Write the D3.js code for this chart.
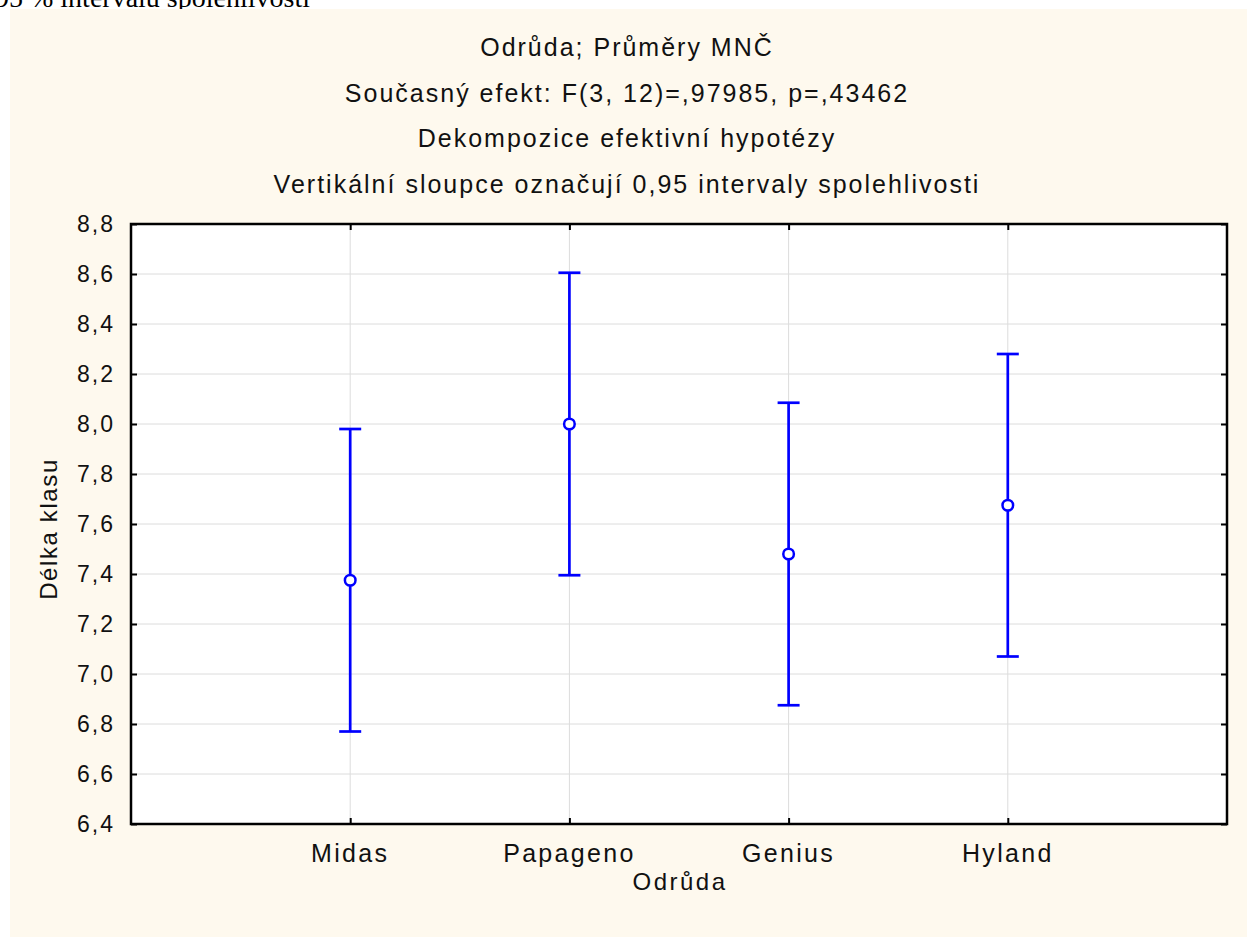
<!DOCTYPE html>
<html>
<head>
<meta charset="utf-8">
<script src="https://cdn.jsdelivr.net/npm/d3@7"></script>
<style>
  body { margin: 0; background: #fff; }
  svg { display: block; }
</style>
</head>
<body>
<svg id="chart" width="1247" height="937"></svg>
<script>
var categories = ['Midas', 'Papageno', 'Genius', 'Hyland'];
var means = [7.375, 8.0, 7.48, 7.675];
var lowerCI = [6.77, 7.395, 6.875, 7.07];
var upperCI = [7.98, 8.605, 8.085, 8.28];
var yTicks = [6.4, 6.6, 6.8, 7.0, 7.2, 7.4, 7.6, 7.8, 8.0, 8.2, 8.4, 8.6, 8.8];
var titleLines = [
  'Odrůda; Průměry MNČ',
  'Současný efekt: F(3, 12)=,97985, p=,43462',
  'Dekompozice efektivní hypotézy',
  'Vertikální sloupce označují 0,95 intervaly spolehlivosti'
];

var svg = d3.select('#chart');
var W = 1247, H = 937;
var plot = { left: 131, top: 224, right: 1227, bottom: 824 };
var font = '"Liberation Sans", Arial, sans-serif';

// leftover caption from the surrounding document, cut off at the top
svg.append('text')
  .attr('x', -5)
  .attr('y', 7)
  .attr('font-family', '"Liberation Serif", "Times New Roman", serif')
  .attr('font-size', '28px')
  .attr('fill', 'black')
  .text('95 % intervalu spolehlivosti');

svg.append('rect')
  .attr('x', 10).attr('y', 9)
  .attr('width', W - 10).attr('height', H - 9)
  .attr('fill', '#fef9ee');

var x = d3.scalePoint()
  .domain(categories)
  .range([plot.left, plot.right])
  .padding(1);

var y = d3.scaleLinear()
  .domain([6.4, 8.8])
  .range([plot.bottom, plot.top]);

var fmt = function(v) { return d3.format('.1f')(v).replace('.', ','); };

svg.append('rect')
  .attr('x', plot.left).attr('y', plot.top)
  .attr('width', plot.right - plot.left)
  .attr('height', plot.bottom - plot.top)
  .attr('fill', 'white');

// grid
svg.append('g')
  .selectAll('line')
  .data(yTicks.slice(1, -1))
  .join('line')
  .attr('x1', plot.left).attr('x2', plot.right)
  .attr('y1', function(d) { return y(d); })
  .attr('y2', function(d) { return y(d); })
  .attr('stroke', '#dcdcdc')
  .attr('stroke-width', 1);

svg.append('g')
  .selectAll('line')
  .data(categories)
  .join('line')
  .attr('x1', function(d) { return x(d); })
  .attr('x2', function(d) { return x(d); })
  .attr('y1', plot.top).attr('y2', plot.bottom)
  .attr('stroke', '#dcdcdc')
  .attr('stroke-width', 1);

// axes: inward ticks on all four sides
var axisLeft = svg.append('g')
  .attr('transform', 'translate(' + plot.left + ',0)')
  .call(d3.axisRight(y).tickValues(yTicks).tickSize(6).tickFormat(''));
var axisRight = svg.append('g')
  .attr('transform', 'translate(' + plot.right + ',0)')
  .call(d3.axisLeft(y).tickValues(yTicks).tickSize(6).tickFormat(''));
var axisTop = svg.append('g')
  .attr('transform', 'translate(0,' + plot.top + ')')
  .call(d3.axisBottom(x).tickSize(6).tickFormat(''));
var axisBottom = svg.append('g')
  .attr('transform', 'translate(0,' + plot.bottom + ')')
  .call(d3.axisTop(x).tickSize(6).tickFormat(''));

[axisLeft, axisRight, axisTop, axisBottom].forEach(function(a) {
  a.select('.domain').remove();
  a.selectAll('.tick line').attr('stroke', 'black').attr('stroke-width', 2);
});

svg.append('rect')
  .attr('x', plot.left).attr('y', plot.top)
  .attr('width', plot.right - plot.left)
  .attr('height', plot.bottom - plot.top)
  .attr('fill', 'none')
  .attr('stroke', 'black')
  .attr('stroke-width', 2.5);

// tick labels
svg.append('g')
  .selectAll('text')
  .data(yTicks)
  .join('text')
  .attr('x', 115)
  .attr('y', function(d) { return y(d); })
  .attr('dy', '0.36em')
  .attr('text-anchor', 'end')
  .attr('font-family', font)
  .attr('font-size', '23px')
  .attr('letter-spacing', '2px')
  .attr('fill', '#111')
  .text(fmt);

svg.append('g')
  .selectAll('text')
  .data(categories)
  .join('text')
  .attr('x', function(d) { return x(d); })
  .attr('y', 862)
  .attr('text-anchor', 'middle')
  .attr('font-family', font)
  .attr('font-size', '25px')
  .attr('letter-spacing', '2.3px')
  .attr('fill', '#111')
  .text(function(d) { return d; });

// titles
svg.append('g')
  .selectAll('text')
  .data(titleLines)
  .join('text')
  .attr('x', 627)
  .attr('y', function(d, i) { return 56 + i * 45.5; })
  .attr('text-anchor', 'middle')
  .attr('font-family', font)
  .attr('font-size', '25px')
  .attr('letter-spacing', '2px')
  .attr('fill', '#111')
  .text(function(d) { return d; });

svg.append('text')
  .attr('x', 680)
  .attr('y', 890)
  .attr('text-anchor', 'middle')
  .attr('font-family', font)
  .attr('font-size', '24px')
  .attr('letter-spacing', '2.5px')
  .attr('fill', '#111')
  .text('Odrůda');

svg.append('text')
  .attr('transform', 'translate(57,529) rotate(-90)')
  .attr('text-anchor', 'middle')
  .attr('font-family', font)
  .attr('font-size', '24px')
  .attr('letter-spacing', '1.6px')
  .attr('fill', '#111')
  .text('Délka klasu');

// error bars
var bars = svg.append('g')
  .selectAll('g')
  .data(categories)
  .join('g');

bars.append('line')
  .attr('x1', function(d) { return x(d); })
  .attr('x2', function(d) { return x(d); })
  .attr('y1', function(d, i) { return y(lowerCI[i]); })
  .attr('y2', function(d, i) { return y(upperCI[i]); })
  .attr('stroke', '#0000ff')
  .attr('stroke-width', 2.7);

bars.append('line')
  .attr('x1', function(d) { return x(d) - 11; })
  .attr('x2', function(d) { return x(d) + 11; })
  .attr('y1', function(d, i) { return y(upperCI[i]); })
  .attr('y2', function(d, i) { return y(upperCI[i]); })
  .attr('stroke', '#0000ff')
  .attr('stroke-width', 2.7);

bars.append('line')
  .attr('x1', function(d) { return x(d) - 11; })
  .attr('x2', function(d) { return x(d) + 11; })
  .attr('y1', function(d, i) { return y(lowerCI[i]); })
  .attr('y2', function(d, i) { return y(lowerCI[i]); })
  .attr('stroke', '#0000ff')
  .attr('stroke-width', 2.7);

bars.append('circle')
  .attr('cx', function(d) { return x(d); })
  .attr('cy', function(d, i) { return y(means[i]); })
  .attr('r', 5.3)
  .attr('fill', 'white')
  .attr('stroke', '#0000ff')
  .attr('stroke-width', 2.5);
</script>
</body>
</html>
